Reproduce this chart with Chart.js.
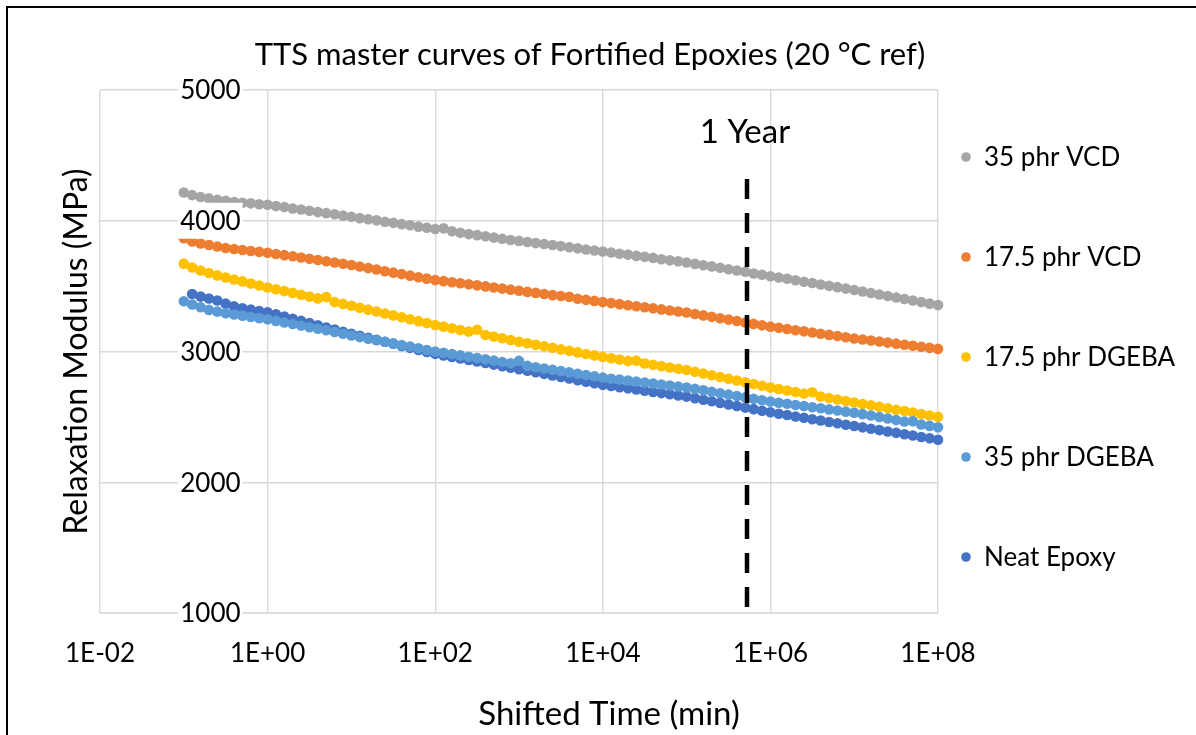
<!DOCTYPE html>
<html lang="en">
<head>
  <meta charset="UTF-8">
  <title>TTS master curves of Fortified Epoxies</title>
  <style>
    body {
      margin: 0;
      background: #fff;
      overflow: hidden;
    }

    #wrap {
      position: relative;
      width: 1196px;
      height: 735px;
      overflow: hidden;
    }

    /* figure frame, runs off the right and bottom edges */
    #frame {
      position: absolute;
      left: 6px;
      top: 6px;
      width: 1400px;
      height: 1000px;
      border: 2px solid #000;
      pointer-events: none;
    }
  </style>
</head>
<body>

<div id="wrap">
  <canvas id="masterChart" width="1196" height="735"></canvas>
  <div id="frame"></div>
</div>

<script src="https://cdn.jsdelivr.net/npm/chart.js"></script>

<script>
  // shifted time, log10(min)
  var logTime = [
    -1.0, -0.9, -0.8, -0.7, -0.6, -0.5, -0.4, -0.3, -0.2, -0.1,
    0.0, 0.1, 0.2, 0.3, 0.4, 0.5, 0.6, 0.7, 0.8, 0.9,
    1.0, 1.1, 1.2, 1.3, 1.4, 1.5, 1.6, 1.7, 1.8, 1.9,
    2.0, 2.1, 2.2, 2.3, 2.4, 2.5, 2.6, 2.7, 2.8, 2.9,
    3.0, 3.1, 3.2, 3.3, 3.4, 3.5, 3.6, 3.7, 3.8, 3.9,
    4.0, 4.1, 4.2, 4.3, 4.4, 4.5, 4.6, 4.7, 4.8, 4.9,
    5.0, 5.1, 5.2, 5.3, 5.4, 5.5, 5.6, 5.7, 5.8, 5.9,
    6.0, 6.1, 6.2, 6.3, 6.4, 6.5, 6.6, 6.7, 6.8, 6.9,
    7.0, 7.1, 7.2, 7.3, 7.4, 7.5, 7.6, 7.7, 7.8, 7.9,
    8.0
  ];

  // relaxation modulus (MPa) at each shifted time
  var vcd35 = [
    4216, 4196, 4182, 4171, 4160, 4152, 4143, 4138, 4133, 4126,
    4122, 4112, 4105, 4094, 4086, 4077, 4066, 4058, 4050, 4039,
    4031, 4020, 4012, 4003, 3992, 3984, 3974, 3966, 3955, 3946,
    3937, 3942, 3920, 3908, 3898, 3890, 3881, 3872, 3862, 3853,
    3846, 3838, 3829, 3822, 3814, 3806, 3797, 3789, 3780, 3772,
    3765, 3757, 3748, 3741, 3731, 3724, 3716, 3706, 3697, 3690,
    3681, 3670, 3660, 3651, 3640, 3629, 3619, 3610, 3597, 3587,
    3576, 3566, 3556, 3545, 3533, 3524, 3512, 3502, 3492, 3481,
    3470, 3459, 3447, 3436, 3424, 3413, 3401, 3390, 3378, 3366,
    3355
  ];

  var vcd175 = [
    3866, 3842, 3826, 3814, 3803, 3792, 3784, 3776, 3769, 3762,
    3755, 3746, 3737, 3728, 3719, 3709, 3700, 3690, 3681, 3671,
    3662, 3650, 3638, 3627, 3614, 3603, 3592, 3580, 3568, 3557,
    3546, 3538, 3530, 3522, 3514, 3506, 3498, 3489, 3481, 3473,
    3465, 3456, 3448, 3440, 3431, 3424, 3418, 3404, 3395, 3387,
    3378, 3370, 3362, 3354, 3346, 3338, 3330, 3322, 3314, 3306,
    3298, 3287, 3276, 3265, 3254, 3244, 3233, 3222, 3211, 3200,
    3190, 3181, 3172, 3163, 3154, 3145, 3136, 3127, 3118, 3109,
    3100, 3092, 3084, 3076, 3068, 3060, 3052, 3044, 3036, 3028,
    3020
  ];

  var dgeba175 = [
    3672, 3642, 3620, 3600, 3582, 3566, 3551, 3536, 3520, 3505,
    3490, 3476, 3462, 3448, 3434, 3420, 3406, 3416, 3378, 3364,
    3350, 3335, 3320, 3306, 3291, 3276, 3262, 3247, 3232, 3218,
    3203, 3190, 3178, 3165, 3152, 3166, 3126, 3114, 3101, 3088,
    3075, 3063, 3051, 3040, 3028, 3016, 3005, 2993, 2981, 2970,
    2958, 2948, 2938, 2928, 2930, 2908, 2898, 2888, 2878, 2868,
    2858, 2845, 2832, 2818, 2805, 2792, 2778, 2765, 2752, 2738,
    2725, 2713, 2702, 2690, 2679, 2688, 2656, 2644, 2633, 2621,
    2610, 2599, 2588, 2577, 2566, 2555, 2544, 2533, 2522, 2511,
    2500
  ];

  var dgeba35 = [
    3384, 3360, 3338, 3318, 3305, 3293, 3283, 3273, 3264, 3255,
    3246, 3234, 3222, 3210, 3198, 3186, 3174, 3162, 3150, 3136,
    3122, 3110, 3098, 3086, 3074, 3062, 3050, 3038, 3025, 3012,
    3000, 2990, 2980, 2970, 2960, 2950, 2940, 2930, 2920, 2910,
    2928, 2890, 2880, 2870, 2860, 2850, 2840, 2830, 2820, 2810,
    2800, 2792, 2785, 2778, 2770, 2762, 2755, 2748, 2740, 2732,
    2725, 2714, 2703, 2692, 2681, 2670, 2660, 2649, 2638, 2627,
    2617, 2608, 2600, 2591, 2583, 2574, 2566, 2557, 2549, 2540,
    2532, 2521, 2510, 2499, 2488, 2476, 2465, 2466, 2442, 2431,
    2420
  ];

  var neatEpoxy = [
    null, 3440, 3420, 3405, 3390, 3366, 3345, 3330, 3320, 3310,
    3300, 3284, 3268, 3251, 3234, 3218, 3201, 3184, 3168, 3151,
    3135, 3120, 3105, 3090, 3074, 3059, 3043, 3028, 3012, 2997,
    2982, 2970, 2958, 2946, 2935, 2923, 2912, 2900, 2888, 2876,
    2865, 2853, 2841, 2829, 2817, 2805, 2793, 2781, 2769, 2757,
    2745, 2736, 2727, 2718, 2709, 2700, 2691, 2682, 2673, 2664,
    2655, 2643, 2631, 2619, 2607, 2595, 2583, 2571, 2559, 2547,
    2535, 2524, 2514, 2503, 2493, 2482, 2472, 2461, 2451, 2440,
    2430, 2420, 2409, 2399, 2388, 2378, 2367, 2357, 2346, 2336,
    2325
  ];

  var seriesNames = ['35 phr VCD', '17.5 phr VCD', '17.5 phr DGEBA', '35 phr DGEBA', 'Neat Epoxy'];
  var seriesColors = ['#A5A5A5', '#ED7D31', '#FFC000', '#5B9BD5', '#4472C4'];
  var seriesValues = [vcd35, vcd175, dgeba175, dgeba35, neatEpoxy];

  var timeTicks = [1e-2, 1e0, 1e2, 1e4, 1e6, 1e8];
  var modulusTicks = [1000, 2000, 3000, 4000, 5000];

  // one year in minutes, marked with a dashed line
  var oneYear = 525600;
  var yearLineTop = 4320;

  var FONT = 'Lato, "Open Sans", sans-serif';
  var TEXT = '#000';

  function toPoints(values) {
    var pts = [];
    for (var i = 0; i < values.length; i++) {
      if (values[i] === null) continue;
      pts.push({ x: Math.pow(10, logTime[i]), y: values[i] });
    }
    return pts;
  }

  function sciLabel(v) {
    var e = Math.round(Math.log10(v));
    return '1E' + (e < 0 ? '-' : '+') + String(Math.abs(e)).padStart(2, '0');
  }

  // titles, legend, the axis values at t = 1 min, and the year label
  var annotations = {
    id: 'annotations',
    afterDatasetsDraw: function(chart) {
      var ctx = chart.ctx;
      var xs = chart.scales.x;
      var ys = chart.scales.y;
      var area = chart.chartArea;
      ctx.save();
      ctx.font = '26px ' + FONT;
      ctx.textBaseline = 'middle';

      // vertical axis crosses at 1 min; labels sit on a white box
      var axisX = xs.getPixelForValue(1) - 27;
      ctx.textAlign = 'right';
      modulusTicks.forEach(function(v) {
        var py = ys.getPixelForValue(v);
        var label = String(v);
        var w = ctx.measureText(label).width;
        ctx.fillStyle = '#fff';
        ctx.fillRect(axisX - w - 2, py - 18, w + 4, 36);
        ctx.fillStyle = TEXT;
        ctx.fillText(label, axisX, py + 1);
      });

      ctx.textAlign = 'center';
      ctx.font = '31px ' + FONT;
      ctx.fillText('TTS master curves of Fortified Epoxies (20 \u00B0C ref)', 590, 55);
      ctx.font = '33px ' + FONT;
      ctx.fillText('Shifted Time (min)', 609, 714);
      ctx.fillText('1 Year', xs.getPixelForValue(oneYear) - 2, 132);

      ctx.save();
      ctx.font = '32px ' + FONT;
      ctx.translate(77, (area.top + area.bottom) / 2);
      ctx.rotate(-Math.PI / 2);
      ctx.fillText('Relaxation Modulus (MPa)', 0, 0);
      ctx.restore();

      // legend
      ctx.textAlign = 'left';
      ctx.font = '26px ' + FONT;
      seriesNames.forEach(function(name, i) {
        var ly = 157 + i * 100;
        ctx.fillStyle = seriesColors[i];
        ctx.beginPath();
        ctx.arc(area.right + 28, ly, 4.8, 0, Math.PI * 2);
        ctx.fill();
        ctx.fillStyle = TEXT;
        ctx.fillText(name, area.right + 46, ly + 1);
      });
      ctx.restore();
    }
  };

  function seriesDataset(i) {
    return {
      label: seriesNames[i],
      data: toPoints(seriesValues[i]),
      backgroundColor: seriesColors[i],
      borderColor: seriesColors[i],
      pointRadius: 5.3,
      pointBorderWidth: 0,
      pointHoverRadius: 5.3,
      clip: false
    };
  }

  var datasets = [
    {
      label: '1 Year',
      data: [{ x: oneYear, y: yearLineTop }, { x: oneYear, y: 1000 }],
      showLine: true,
      borderColor: '#000',
      borderWidth: 4.5,
      borderDash: [20, 14],
      borderCapStyle: 'butt',
      pointRadius: 0,
      pointHoverRadius: 0
    },
    // later series in this list sit underneath earlier ones
    seriesDataset(3),
    seriesDataset(2),
    seriesDataset(0),
    seriesDataset(1),
    seriesDataset(4)
  ];

  var ctx = document.getElementById('masterChart').getContext('2d');
  var chart = new Chart(ctx, {
    type: 'scatter',
    data: { datasets: datasets },
    options: {
      responsive: false,
      animation: false,
      layout: {
        padding: { left: 100, right: 258, top: 90, bottom: 0 }
      },
      plugins: {
        legend: { display: false },
        title: { display: false },
        tooltip: { enabled: false }
      },
      scales: {
        x: {
          type: 'logarithmic',
          min: 1e-2,
          max: 1e8,
          afterBuildTicks: function(scale) {
            scale.ticks = timeTicks.map(function(v) { return { value: v }; });
          },
          afterFit: function(scale) {
            scale.height = 122;
          },
          grid: {
            color: '#D9D9D9',
            lineWidth: 1.4,
            drawTicks: false
          },
          border: { color: '#D9D9D9', width: 1.6 },
          ticks: {
            autoSkip: false,
            maxRotation: 0,
            padding: 25,
            color: TEXT,
            font: { family: FONT, size: 26 },
            callback: function(v) { return sciLabel(v); }
          }
        },
        y: {
          min: 1000,
          max: 5000,
          afterBuildTicks: function(scale) {
            scale.ticks = modulusTicks.map(function(v) { return { value: v }; });
          },
          afterFit: function(scale) {
            scale.width = 0;
          },
          grid: {
            color: '#D9D9D9',
            lineWidth: 1.4,
            drawTicks: false
          },
          border: { display: false },
          ticks: { display: false }
        }
      }
    },
    plugins: [annotations]
  });
</script>

</body>
</html>
